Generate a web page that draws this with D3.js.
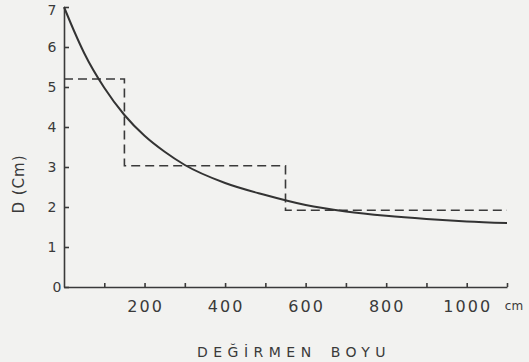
<!DOCTYPE html>
<html>
<head>
<meta charset="utf-8">
<script src="https://cdn.jsdelivr.net/npm/d3@7"></script>
<style>
  body { margin: 0; background: #f2f2f0; }
  svg { display: block; }
  .axis path, .axis line { stroke: #3a3a3a; stroke-width: 1.6; }
  .lbl { font-family: "DejaVu Sans", sans-serif; fill: #3a3a3a; }
</style>
</head>
<body>
<script>
/* Data */
var xTicks = [100, 200, 300, 400, 500, 600, 700, 800, 900, 1000, 1100];
var xLabels = [200, 400, 600, 800, 1000];
var yTicks = [0, 1, 2, 3, 4, 5, 6, 7];
var curveLen = [0, 25, 50, 100, 150, 200, 250, 300, 400, 500, 600, 700, 800, 900, 1000, 1100];
var curveD = [7, 6.4, 5.85, 4.98, 4.3, 3.78, 3.38, 3.05, 2.6, 2.3, 2.05, 1.89, 1.78, 1.7, 1.64, 1.6];
var stepLen = [0, 150, 150, 550, 550, 1100];
var stepD = [5.2, 5.2, 3.03, 3.03, 1.92, 1.92];

const W = 529, H = 362;
var x = d3.scaleLinear().domain([0, 1100]).range([64, 507]);
var y = d3.scaleLinear().domain([0, 7]).range([287, 7]);

var svg = d3.select("body").append("svg")
    .attr("width", W)
    .attr("height", H);

// axes, ticks pointing inward
svg.append("g")
    .attr("class", "axis")
    .attr("transform", "translate(0," + y(0) + ")")
    .call(d3.axisTop(x).tickValues(xTicks).tickSize(4).tickSizeOuter(0).tickFormat(""));

svg.append("g")
    .attr("class", "axis")
    .attr("transform", "translate(" + x(0) + ",0)")
    .call(d3.axisRight(y).tickValues(yTicks).tickSize(5).tickSizeOuter(0).tickFormat(""));

// tick labels
svg.selectAll(".xl").data(xLabels).enter().append("text")
    .attr("class", "lbl")
    .attr("x", d => x(d) + 1)
    .attr("y", 312)
    .attr("text-anchor", "middle")
    .attr("font-size", 16)
    .attr("letter-spacing", 2)
    .text(d => d);

svg.selectAll(".yl").data(yTicks).enter().append("text")
    .attr("class", "lbl")
    .attr("x", d => d === 0 ? 57 : 52)
    .attr("y", d => Math.max(y(d) + 5, 15))
    .attr("text-anchor", "middle")
    .attr("font-size", 14)
    .text(d => d);

svg.append("text")
    .attr("class", "lbl")
    .attr("x", 514)
    .attr("y", 310)
    .attr("text-anchor", "middle")
    .attr("font-size", 12)
    .text("cm");

svg.append("text")
    .attr("class", "lbl")
    .attr("x", 294)
    .attr("y", 357)
    .attr("text-anchor", "middle")
    .attr("font-size", 14)
    .attr("letter-spacing", 5.5)
    .attr("word-spacing", 4)
    .text("DEĞİRMEN BOYU");

svg.append("text")
    .attr("class", "lbl")
    .attr("transform", "translate(24,184) rotate(-90)")
    .attr("text-anchor", "middle")
    .attr("font-size", 15)
    .attr("letter-spacing", 1)
    .text("D (Cm)");

// dashed step line
var stepPts = stepLen.map((d, i) => [d, stepD[i]]);
svg.append("path")
    .datum(stepPts)
    .attr("fill", "none")
    .attr("stroke", "#3a3a3a")
    .attr("stroke-width", 1.6)
    .attr("stroke-dasharray", "9,5")
    .attr("d", d3.line().x(d => x(d[0])).y(d => y(d[1])));

// solid curve
var curvePts = curveLen.map((d, i) => [d, curveD[i]]);
svg.append("path")
    .datum(curvePts)
    .attr("fill", "none")
    .attr("stroke", "#333")
    .attr("stroke-width", 2)
    .attr("d", d3.line().curve(d3.curveMonotoneX).x(d => x(d[0])).y(d => y(d[1])));
</script>
</body>
</html>
